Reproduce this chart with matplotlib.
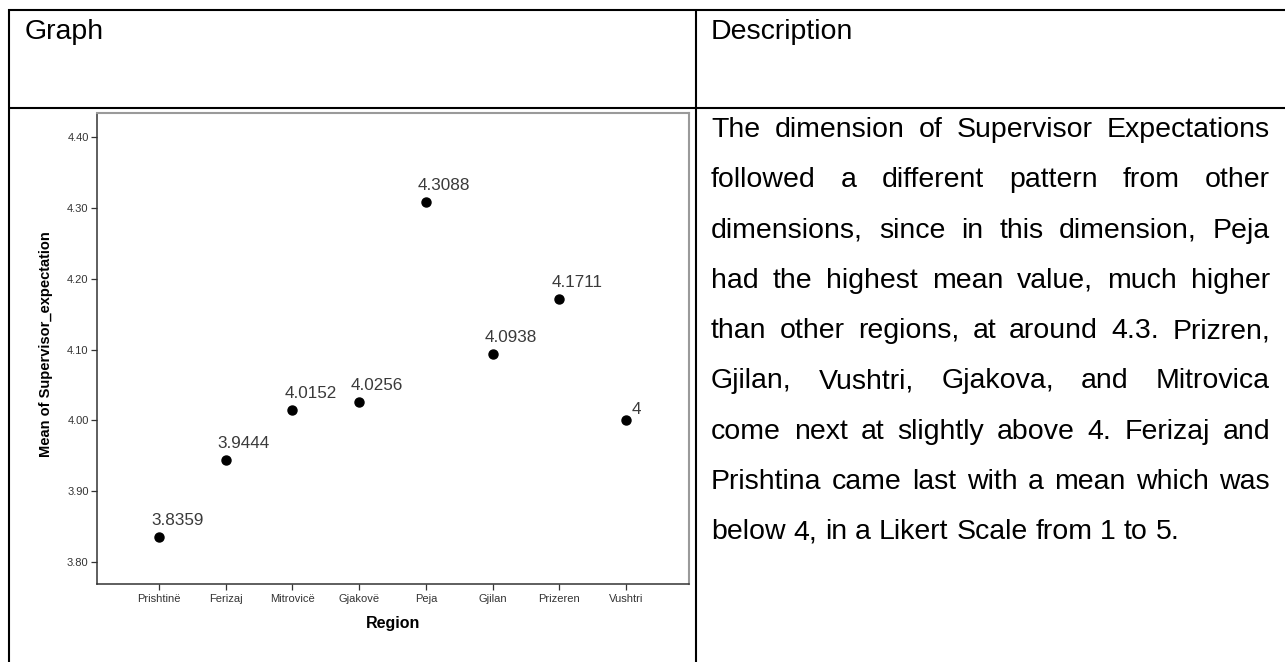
import matplotlib
matplotlib.use('Agg')
import matplotlib.pyplot as plt
from matplotlib.lines import Line2D

plt.rcParams['font.family'] = ['Liberation Sans', 'DejaVu Sans']

# data
regions = ['Prishtinë', 'Ferizaj', 'Mitrovicë', 'Gjakovë', 'Peja', 'Gjilan', 'Prizeren', 'Vushtri']
means = [3.8359, 3.9444, 4.0152, 4.0256, 4.3088, 4.0938, 4.1711, 4.0]
yticks = [3.80, 3.90, 4.00, 4.10, 4.20, 4.30, 4.40]

headers = ['Graph', 'Description']
description_lines = [
    'The dimension of Supervisor Expectations',
    'followed a different pattern from other',
    'dimensions, since in this dimension, Peja',
    'had the highest mean value, much higher',
    'than other regions, at around 4.3. Prizren,',
    'Gjilan, Vushtri, Gjakova, and Mitrovica',
    'come next at slightly above 4. Ferizaj and',
    'Prishtina came last with a mean which was',
    'below 4, in a Likert Scale from 1 to 5.',
]

W, H = 1285, 662
fig = plt.figure(figsize=(W / 100, H / 100), dpi=100)


def fx(px):
    return px / W


def fy(py):
    return 1 - py / H


# table grid
def tline(x0, y0, x1, y1):
    fig.add_artist(Line2D([fx(x0), fx(x1)], [fy(y0), fy(y1)], transform=fig.transFigure,
                          color='black', lw=1.5, solid_capstyle='butt'))


tline(8, 10, W, 10)
tline(8, 108, W, 108)
tline(9, 9, 9, H)
tline(696, 9, 696, H)

fig.text(fx(25), fy(39), headers[0], fontsize=20.5, va='baseline')
fig.text(fx(711), fy(39), headers[1], fontsize=20.5, va='baseline')

# chart
ax = fig.add_axes([fx(97), fy(584), (689 - 97) / W, (584 - 113) / H])
x = list(range(len(regions)))
ax.plot(x, means, 'o', color='black', ms=6.5, ls='none')

for i, v in enumerate(means):
    txt = f'{v:g}'
    off = (-5.8, 8.6) if len(txt) > 1 else (4.3, 4.3)
    ax.annotate(txt, (i, v), xytext=off, textcoords='offset points',
                ha='left', va='baseline', fontsize=12.3, color='#3a3a3a')

ax.set_xlim(-0.93, 7.944)
ax.set_ylim(3.769, 4.434)
ax.set_xticks(x)
ax.set_xticklabels(regions)
ax.set_yticks(yticks)
ax.set_yticklabels([f'{t:.2f}' for t in yticks])
ax.tick_params(axis='both', direction='out', length=4.5, width=0.9, color='#333333',
               labelcolor='#333333', labelsize=8)
ax.tick_params(axis='x', pad=2.5)
ax.tick_params(axis='y', pad=1.5, labelsize=8)

for side in ['left', 'bottom']:
    ax.spines[side].set_color('#333333')
    ax.spines[side].set_linewidth(1.1)
for side in ['top', 'right']:
    ax.spines[side].set_color('#9a9a9a')
    ax.spines[side].set_linewidth(1.5)

ax.set_ylabel('Mean of Supervisor_expectation', fontsize=10.5, fontweight='bold')
ax.yaxis.set_label_coords(-0.074, 0.51)
ax.set_xlabel('Region', fontsize=11.5, fontweight='bold')
ax.xaxis.set_label_coords(0.5, -0.068)

# justified description text
renderer = fig.canvas.get_renderer()
left_px, right_px = 711, 1270
probe_pair = fig.text(0, 0, 'a a', fontsize=20.5)
probe_one = fig.text(0, 0, 'a', fontsize=20.5)
space_w = probe_pair.get_window_extent(renderer).width - 2 * probe_one.get_window_extent(renderer).width
probe_pair.remove()
probe_one.remove()

for li, line in enumerate(description_lines):
    base = 137 + 50.3 * li
    words = line.split(' ')
    arts = [fig.text(0, fy(base), w, fontsize=20.5, va='baseline') for w in words]
    widths = [a.get_window_extent(renderer).width for a in arts]
    if li < len(description_lines) - 1 and len(words) > 1:
        gap = (right_px - left_px - sum(widths)) / (len(words) - 1)
    else:
        gap = space_w
    pos = left_px
    for a, w in zip(arts, widths):
        a.set_x(fx(pos))
        pos += w + gap

fig.savefig('out.png', dpi=100)
